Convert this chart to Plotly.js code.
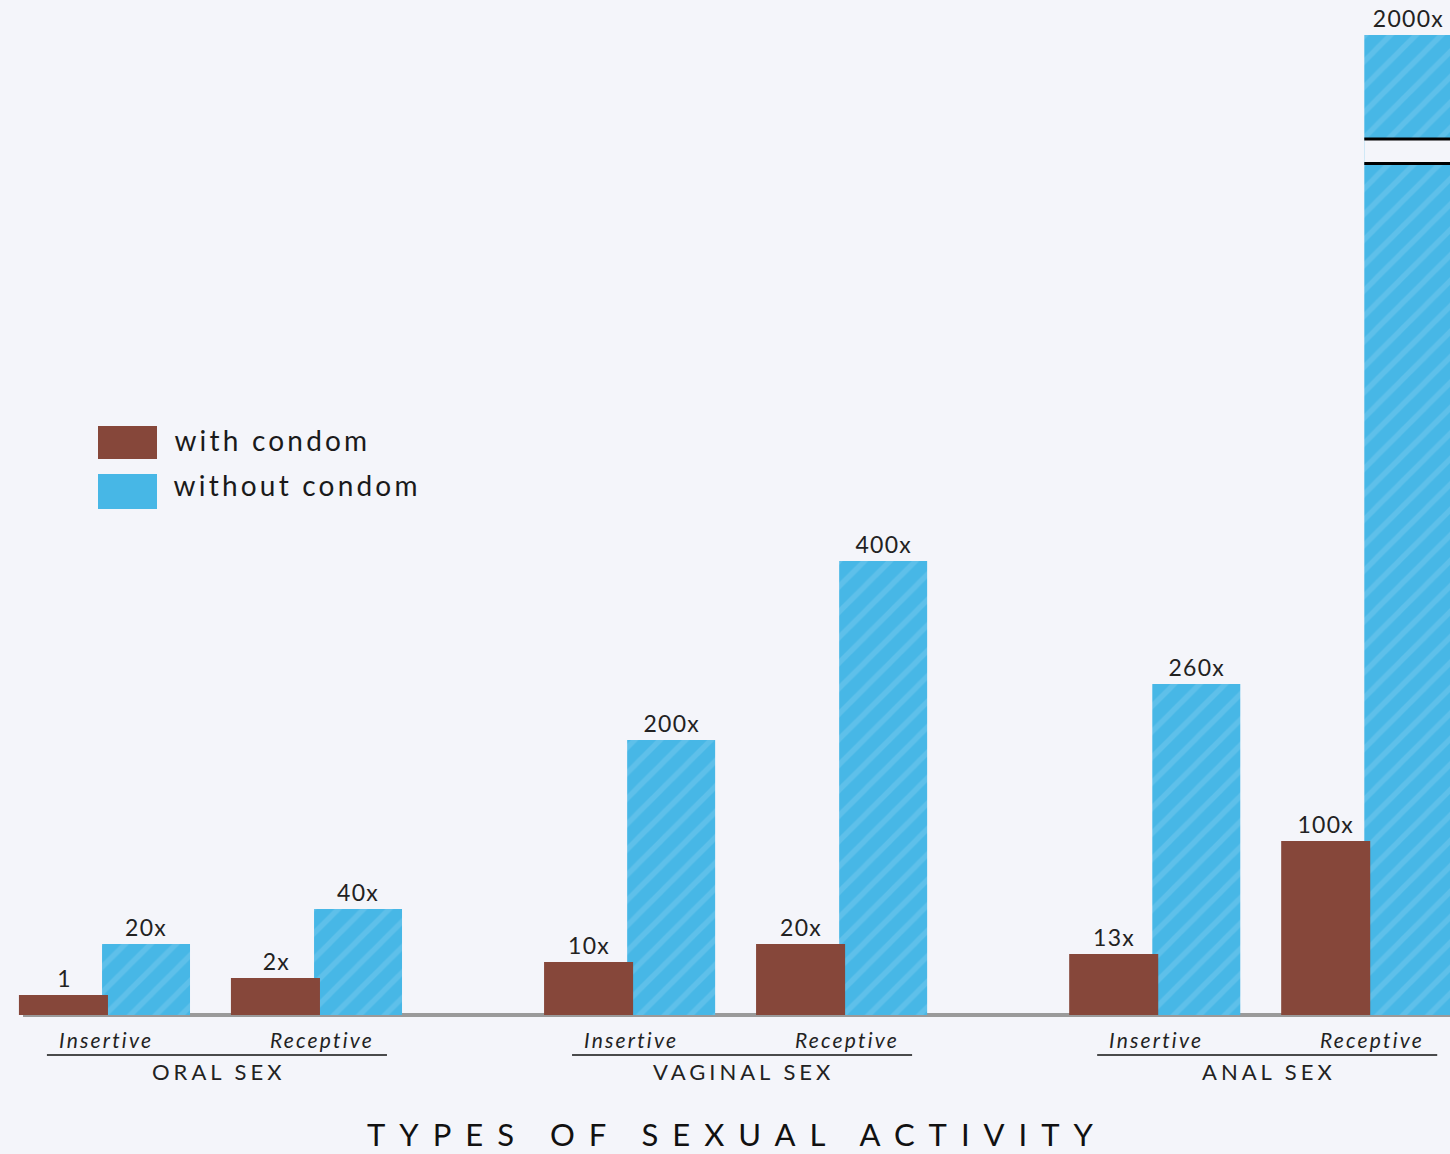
<!DOCTYPE html>
<html>
<head>
<meta charset="utf-8">
<script src="https://cdn.plot.ly/plotly-3.0.1.min.js"></script>
<style>
html, body { margin: 0; padding: 0; background: #f4f5fa; }
#chart { width: 1450px; height: 1154px; }
</style>
<style id="spacing"></style>
</head>
<body>
<div id="chart"></div>
<script>
// ---- Data ----
const groups = ['ORAL SEX', 'VAGINAL SEX', 'ANAL SEX'];
const roles = ['Insertive', 'Receptive'];
// relative risk multipliers (labels above bars)
const riskWithCondom    = [1, 2, 10, 20, 13, 100];
const riskWithoutCondom = [20, 40, 200, 400, 260, 2000];
// bar heights as drawn in the (not-to-scale) illustration
const drawnWithCondom    = [20, 37, 53, 71, 61, 174];
const drawnWithoutCondom = [71, 106, 275, 454, 331, 980];
const seriesNames = ['with condom', 'without condom'];
const axisTitle = 'TYPES OF SEXUAL ACTIVITY';

// ---- Styling / layout constants ----
const BG = '#f4f5fa';
const BROWN = '#86473a';
const BLUE = '#47b7e6';
const FONT = "Lato, 'Open Sans', sans-serif";
const W = 1450, H = 1154, PLOT_H = 1015;
const GROUP_STEP = 2.477;
const xr = [-0.4953, 6.3443];
const yr = [0, PLOT_H];
const brownOffset = -0.406, brownWidth = 0.42;
const blueOffset = -0.014, blueWidth = 0.415;

const pos = [];
const roleOf = [];
groups.forEach((g, gi) => roles.forEach((r, ri) => {
  pos.push(gi * GROUP_STEP + ri); roleOf.push(r);
}));
const fmt = v => v === 1 ? '1' : v + 'x';
const px2paperY = py => (PLOT_H - py) / PLOT_H;
const toPaperX = v => (v - xr[0]) / (xr[1] - xr[0]);

// blue trace first so the brown bars sit on top where they touch
const traces = [
  {
    type: 'bar', name: seriesNames[1], x: pos, y: drawnWithoutCondom,
    offset: blueOffset, width: blueWidth,
    marker: { color: BLUE, line: { width: 0 },
      pattern: { shape: '/', fillmode: 'overlay', fgcolor: '#9ad8f2', fgopacity: 0.28, size: 18, solidity: 0.3 } },
    hovertext: riskWithoutCondom.map(fmt), hoverinfo: 'text+name'
  },
  {
    type: 'bar', name: seriesNames[0], x: pos, y: drawnWithCondom,
    offset: brownOffset, width: brownWidth,
    marker: { color: BROWN, line: { width: 0 } },
    hovertext: riskWithCondom.map(fmt), hoverinfo: 'text+name'
  }
];

const annotations = [];
const spacingRules = [];
// letter-spacing via CSS; Plotly measures text without it, so left-anchored
// texts are compensated with an xshift of half the added width.
function addAnn(a, ls) {
  if (ls) {
    spacingRules.push(`.annotation[data-index="${annotations.length}"] text { letter-spacing: ${ls}px; }`);
    const extra = a.text.length * ls;
    if (a.xanchor === 'left') a.xshift = (a.xshift || 0) + extra / 2;
    else a.xshift = (a.xshift || 0) + ls / 2;
  }
  annotations.push(a);
}
const valFont = { family: FONT, size: 23, color: '#222' };
pos.forEach((p, i) => {
  addAnn({ x: p + brownOffset + brownWidth / 2, y: drawnWithCondom[i], xref: 'x', yref: 'y',
    text: fmt(riskWithCondom[i]), showarrow: false, xanchor: 'center', yanchor: 'middle', yshift: 17, font: valFont }, 1.3);
  addAnn({ x: p + blueOffset + blueWidth / 2, y: drawnWithoutCondom[i], xref: 'x', yref: 'y',
    text: fmt(riskWithoutCondom[i]), showarrow: false, xanchor: 'center', yanchor: 'middle', yshift: 17, font: valFont }, 1.3);
});
pos.forEach((p, i) => {
  addAnn({ x: p, y: px2paperY(1039), xref: 'x', yref: 'paper', text: roleOf[i], showarrow: false,
    xanchor: 'center', xshift: roleOf[i] === 'Receptive' ? 4 : 0, yanchor: 'middle',
    font: { family: FONT, size: 21, color: '#222', style: 'italic' } }, 2.2);
});
const shapes = [];
groups.forEach((g, gi) => {
  const p0 = pos[gi * 2], p1 = pos[gi * 2 + 1];
  const a = p0 - 0.274, b = p1 + 0.33;
  shapes.push({ type: 'line', xref: 'paper', yref: 'paper', x0: toPaperX(a), x1: toPaperX(b),
    y0: px2paperY(1055), y1: px2paperY(1055), line: { color: '#111', width: 1.5 } });
  addAnn({ x: toPaperX((a + b) / 2), y: px2paperY(1071), xref: 'paper', yref: 'paper', text: g,
    showarrow: false, xanchor: 'center', yanchor: 'middle', font: { family: FONT, size: 22, color: '#222' } }, 4);
});
addAnn({ x: 730 / W, y: px2paperY(1134), xref: 'paper', yref: 'paper', text: axisTitle,
  showarrow: false, xanchor: 'center', yanchor: 'middle', font: { family: FONT, size: 31, color: '#111' } }, 14);

// legend (drawn manually to match the large swatches)
const legendColors = [BROWN, BLUE];
const legendRows = [[426, 459, 440], [474, 509, 485]];
seriesNames.forEach((n, i) => {
  const [t, b, c] = legendRows[i];
  shapes.push({ type: 'rect', xref: 'paper', yref: 'paper', x0: 98 / W, x1: 157 / W,
    y0: px2paperY(b), y1: px2paperY(t), fillcolor: legendColors[i], line: { width: 0 } });
  addAnn({ x: 172 / W, y: px2paperY(c), xref: 'paper', yref: 'paper', text: n, showarrow: false,
    xanchor: 'left', yanchor: 'middle', font: { family: FONT, size: 28, color: '#1a1a1a' } }, 3.2);
});

// baseline
shapes.push({ type: 'line', xref: 'paper', yref: 'paper', x0: 23 / W, x1: 1, y0: 0, y1: 0,
  line: { color: '#9a9a9a', width: 4 }, layer: 'below' });

// axis break on the tallest bar
const iMax = drawnWithoutCondom.indexOf(Math.max(...drawnWithoutCondom));
const bx0 = pos[iMax] + blueOffset, bx1 = xr[1] + 1;
shapes.push({ type: 'rect', xref: 'x', yref: 'y', x0: bx0, x1: bx1, y0: PLOT_H - 163, y1: PLOT_H - 139,
  fillcolor: BG, line: { width: 0 } });
shapes.push({ type: 'line', xref: 'x', yref: 'y', x0: bx0, x1: bx1, y0: PLOT_H - 139, y1: PLOT_H - 139,
  line: { color: '#000', width: 3 } });
shapes.push({ type: 'line', xref: 'x', yref: 'y', x0: bx0, x1: bx1, y0: PLOT_H - 163.5, y1: PLOT_H - 163.5,
  line: { color: '#000', width: 3 } });

document.getElementById('spacing').textContent = spacingRules.join('\n');

const layout = {
  width: W, height: H,
  margin: { l: 0, r: 0, t: 0, b: H - PLOT_H },
  paper_bgcolor: BG, plot_bgcolor: BG,
  barmode: 'overlay',
  showlegend: false,
  xaxis: { range: xr, visible: false, fixedrange: true },
  yaxis: { range: yr, visible: false, fixedrange: true },
  annotations: annotations,
  shapes: shapes,
  font: { family: FONT }
};
Plotly.newPlot('chart', traces, layout, { displayModeBar: false, staticPlot: true });
</script>
</body>
</html>
